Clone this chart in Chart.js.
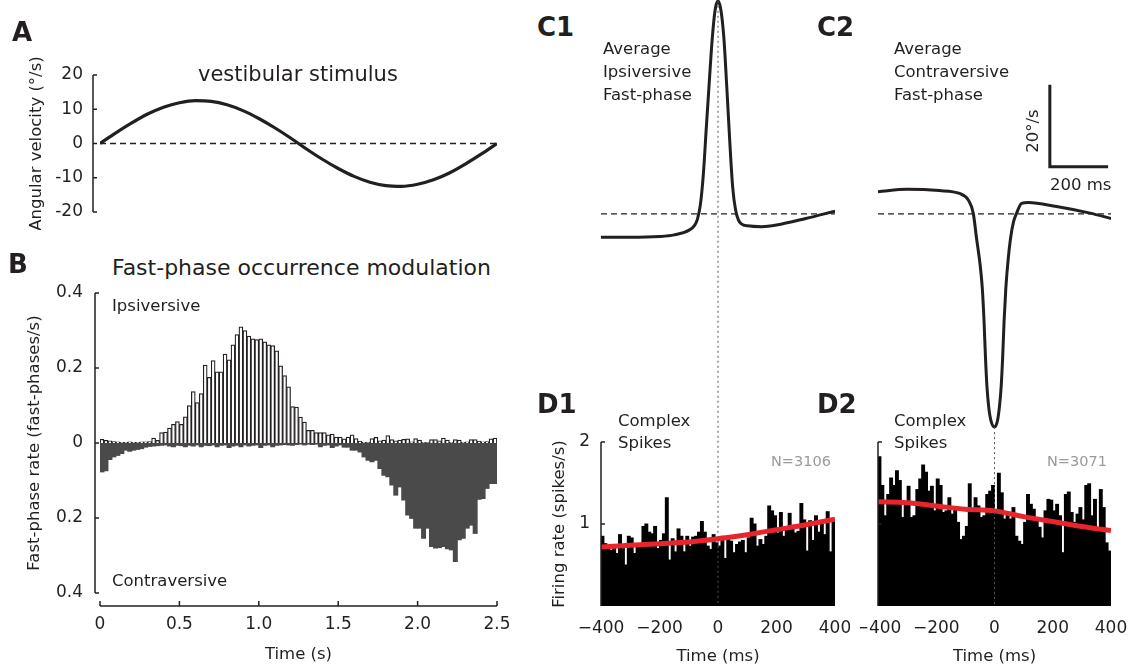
<!DOCTYPE html>
<html>
<head>
<meta charset="utf-8">
<title>Fast-phase occurrence and complex spikes</title>
<script src="https://cdn.jsdelivr.net/npm/chart.js@4.4.1/dist/chart.umd.min.js"></script>
<style>
  body { margin: 0; width: 1133px; height: 669px; position: relative; overflow: hidden; background: #fff;
         font-family: 'DejaVu Sans', sans-serif; color: #231f20; }
  canvas, .txt { position: absolute; }
  .txt { font-size: 16.5px; line-height: 23.3px; white-space: nowrap; }
  .panel { font-weight: bold; font-size: 26px; line-height: 26px; }
</style>
</head>
<body>
<canvas id="chartA" width="510" height="190" style="left:0;top:40px"></canvas>
<canvas id="chartB" width="520" height="389" style="left:0;top:280px"></canvas>
<canvas id="chartD1" width="320" height="269" style="left:530px;top:400px"></canvas>
<canvas id="chartD2" width="273" height="269" style="left:860px;top:400px"></canvas>
<canvas id="chartC1" width="250" height="621" style="left:593px;top:-8px"></canvas>
<canvas id="chartC2" width="249" height="621" style="left:870px;top:-8px"></canvas>

<div class="txt panel" style="left:12px;top:19px">A</div>
<div class="txt panel" style="left:8px;top:251px">B</div>
<div class="txt panel" style="left:537px;top:14px">C1</div>
<div class="txt panel" style="left:817px;top:14px">C2</div>
<div class="txt panel" style="left:537px;top:391px">D1</div>
<div class="txt panel" style="left:817px;top:391px">D2</div>

<div class="txt" style="left:198px;top:64px;font-size:21px;line-height:21px">vestibular stimulus</div>
<div class="txt" style="left:112px;top:257px;font-size:22px;line-height:22px">Fast-phase occurrence modulation</div>
<div class="txt" style="left:112px;top:294px">Ipsiversive</div>
<div class="txt" style="left:112px;top:569px">Contraversive</div>
<div class="txt" style="left:603px;top:36.5px">Average<br>Ipsiversive<br>Fast-phase</div>
<div class="txt" style="left:894px;top:36.5px">Average<br>Contraversive<br>Fast-phase</div>
<div class="txt" style="left:1033px;top:131px;transform:translate(-50%,-50%) rotate(-90deg)">20°/s</div>
<div class="txt" style="left:1050px;top:172.5px">200 ms</div>
<div class="txt" style="left:618px;top:410px;line-height:21.6px">Complex<br>Spikes</div>
<div class="txt" style="left:894px;top:410px;line-height:21.6px">Complex<br>Spikes</div>
<div class="txt" style="left:771px;top:453.7px;font-size:14.5px;line-height:14.5px;color:#9a9a9a">N=3106</div>
<div class="txt" style="left:1047px;top:453.7px;font-size:14.5px;line-height:14.5px;color:#9a9a9a">N=3071</div>

<script>
// ---- data ----
// A: head velocity stimulus
const stimTime = [0, 0.1, 0.2, 0.3, 0.4, 0.5, 0.6, 0.7, 0.8, 0.9, 1.0, 1.1, 1.2, 1.3,
                  1.4, 1.5, 1.6, 1.7, 1.8, 1.9, 2.0, 2.1, 2.2, 2.3, 2.4, 2.5];
const stimVelocity = [0, 3.1, 6.0, 8.6, 10.6, 11.9, 12.5, 12.3, 11.3, 9.6, 7.3, 4.6, 1.6, -1.6,
                      -4.6, -7.3, -9.6, -11.3, -12.3, -12.5, -11.9, -10.6, -8.6, -6.0, -3.1, 0];

// B: fast-phase rate, 25 ms bins over 0-2.5 s
const phaseBin = 0.025;
const ipsiRate = [
  0.010, 0.007, 0.006, 0.004, 0.003, 0.002, 0.002, 0.003, 0.002, 0.002,
  0.003, 0.003, 0.004, 0.013, 0.007, 0.028, 0.029, 0.040, 0.050, 0.057,
  0.050, 0.070, 0.100, 0.137, 0.108, 0.132, 0.208, 0.175, 0.220, 0.190,
  0.190, 0.237, 0.222, 0.262, 0.289, 0.310, 0.300, 0.285, 0.278, 0.276,
  0.278, 0.270, 0.262, 0.260, 0.246, 0.206, 0.180, 0.150, 0.097, 0.096,
  0.069, 0.056, 0.034, 0.034, 0.028, 0.028, 0.028, 0.022, 0.024, 0.016,
  0.016, 0.011, 0.016, 0.022, 0.012, 0.005, 0.002, 0.001, 0.012, 0.015,
  0.006, 0.008, 0.020, 0.009, 0.006, 0.008, 0.010, 0.011, 0.003, 0.012,
  0.008, 0.002, 0.001, 0.009, 0.009, 0.006, 0.013, 0.008, 0.002, 0.009,
  0.008, 0.002, 0.003, 0.009, 0.009, 0.005, 0.003, 0.004, 0.011, 0.013
];
const contraRate = [
  0.077, 0.074, 0.044, 0.037, 0.033, 0.028, 0.019, 0.022, 0.019, 0.017,
  0.015, 0.011, 0.009, 0.008, 0.007, 0.006, 0.005, 0.008, 0.010, 0.006,
  0.007, 0.010, 0.006, 0.008, 0.005, 0.010, 0.006, 0.007, 0.005, 0.010,
  0.006, 0.005, 0.012, 0.008, 0.006, 0.010, 0.005, 0.008, 0.006, 0.005,
  0.012, 0.006, 0.005, 0.010, 0.006, 0.005, 0.004, 0.005, 0.006, 0.004,
  0.003, 0.005, 0.003, 0.004, 0.003, 0.010, 0.006, 0.005, 0.012, 0.008,
  0.005, 0.011, 0.011, 0.019, 0.019, 0.024, 0.037, 0.046, 0.050, 0.046,
  0.068, 0.086, 0.090, 0.112, 0.139, 0.117, 0.152, 0.192, 0.201, 0.227,
  0.227, 0.254, 0.227, 0.276, 0.280, 0.279, 0.276, 0.282, 0.285, 0.316,
  0.258, 0.254, 0.227, 0.219, 0.241, 0.150, 0.148, 0.121, 0.108, 0.108
];

// C: average eye velocity around fast-phase onset
const ipsiTime = [-400, -300, -200, -150, -100, -80, -70, -60, -50, -40, -30, -20, -10, 0,
                  10, 20, 30, 40, 50, 60, 70, 80, 100, 150, 200, 300, 400];
const ipsiVelocity = [-5.7, -5.7, -5.5, -5.1, -4.0, -2.8, -1.2, 2.4, 9.8, 21, 32, 42.5, 49.7, 52,
                      49.7, 43, 31, 18, 6.7, 1.0, -1.5, -2.4, -2.9, -3.1, -2.7, -1.1, 0.7];
const contraTime = [-400, -300, -190, -120, -90, -73, -61, -50, -42, -36, -31, -26, -20, -12, 0,
                    10, 17, 23, 28, 33, 39, 47, 55, 65, 76, 93, 116, 213, 328, 400];
const contraVelocity = [5.4, 6.0, 5.7, 5.0, 3.4, 0.2, -6.3, -12, -18, -26, -35, -42, -47, -50.5, -52,
                        -50.5, -47, -42, -35, -26, -18, -11, -6, -2, 0.2, 2.6, 2.8, 1.8, 0.2, -1.1];

// D: complex spike rate, 10 ms bins over -400..400 ms
const spikeBin = 10;
const ipsiSpikes = [
  0.85, 0.76, 0.72, 0.68, 0.70, 0.64, 0.87, 0.70, 0.50, 0.85,
  0.83, 0.64, 0.76, 0.73, 0.97, 1.00, 0.90, 0.88, 0.97, 0.70,
  0.80, 0.88, 1.32, 0.56, 0.82, 0.66, 0.94, 0.85, 0.66, 0.85,
  0.73, 0.84, 0.85, 0.90, 1.03, 0.90, 0.73, 0.69, 0.87, 0.77,
  0.73, 0.85, 0.58, 0.81, 0.79, 0.65, 0.75, 0.78, 0.80, 0.65,
  0.83, 1.07, 1.00, 0.73, 0.81, 0.75, 0.85, 1.22, 1.16, 1.10,
  0.89, 1.14, 0.85, 0.95, 1.13, 0.97, 0.89, 0.91, 1.25, 1.05,
  0.67, 1.04, 0.80, 1.10, 0.90, 1.00, 0.87, 1.15, 0.66, 1.04
];
const contraSpikes = [
  1.82, 1.47, 1.10, 1.36, 1.56, 1.47, 1.65, 1.53, 1.08, 1.25,
  1.46, 1.08, 1.10, 1.42, 1.55, 1.72, 1.63, 1.40, 1.46, 1.16,
  1.55, 1.47, 1.14, 1.16, 1.32, 1.12, 1.20, 1.02, 0.81, 0.85,
  0.97, 1.49, 1.16, 1.32, 1.22, 1.08, 1.10, 1.36, 1.40, 1.47,
  1.14, 1.62, 1.38, 1.06, 1.12, 1.06, 1.20, 0.85, 0.79, 0.75,
  1.02, 1.36, 1.24, 1.18, 1.06, 0.96, 0.83, 1.16, 1.30, 1.29,
  1.16, 1.24, 1.10, 0.65, 1.36, 1.39, 1.14, 1.02, 1.12, 1.20,
  1.05, 1.47, 1.49, 1.10, 1.30, 0.95, 1.42, 1.20, 0.77, 0.67
];
const fitTime = [-400, -300, -200, -100, 0, 100, 200, 300, 400];
const ipsiFit = [0.72, 0.74, 0.76, 0.78, 0.82, 0.87, 0.93, 0.99, 1.06];
const contraFit = [1.27, 1.26, 1.22, 1.18, 1.16, 1.09, 1.03, 0.97, 0.92];

// ---- style ----
const ink = '#231f20';
const red = '#e8252a';
Chart.defaults.font.family = "'DejaVu Sans', sans-serif";
Chart.defaults.font.size = 17;
Chart.defaults.color = ink;
Chart.defaults.animation = false;
Chart.defaults.plugins.legend.display = false;
Chart.defaults.plugins.tooltip.enabled = false;

const pts = (xs, ys) => ys.map((v, i) => ({ x: xs[i], y: v }));
const bins = (vals, start, w, sign = 1) => vals.map((v, i) => ({ x: start + (i + 0.5) * w, y: sign * v }));
const noGrid = { display: false, drawTicks: false };
const noBorder = { display: false };

// fix a scale's size and stop its labels from pushing the plot area around
const fixSize = (w, h) => s => {
  if (w !== undefined) s.width = w;
  if (h !== undefined) s.height = h;
  s.paddingLeft = s.paddingRight = s.paddingTop = s.paddingBottom = 0;
};

function seg(ctx, x1, y1, x2, y2) {
  ctx.beginPath(); ctx.moveTo(x1, y1); ctx.lineTo(x2, y2); ctx.stroke();
}

// axes with inward ticks, reference lines and scale bar
const figureMarks = {
  id: 'figureMarks',
  afterDatasetsDraw(chart, args, o) {
    const { ctx, chartArea: ca, scales: { x, y } } = chart;
    ctx.save();
    ctx.strokeStyle = ink;
    if (o.zeroLine) {
      ctx.lineWidth = 1.3;
      ctx.setLineDash([6, 4]);
      const py = y.getPixelForValue(0);
      seg(ctx, ca.left, py, ca.right, py);
      ctx.setLineDash([]);
    }
    if (o.eventLine) {
      const onset = chart.data.datasets[0].data.find(p => p.x === 0);
      const px = x.getPixelForValue(0);
      ctx.strokeStyle = '#555';
      ctx.lineWidth = 1;
      ctx.setLineDash([2, 3]);
      seg(ctx, px, y.getPixelForValue(onset.y), px, ca.bottom);
      ctx.setLineDash([]);
      ctx.strokeStyle = ink;
    }
    ctx.lineWidth = 1.5;
    if (o.yAxis) {
      const ax = ca.left - o.yAxis.gap;
      seg(ctx, ax, y.getPixelForValue(y.max), ax, y.getPixelForValue(y.min));
      y.ticks.forEach(t => {
        const py = y.getPixelForValue(t.value);
        seg(ctx, ax, py, ax + o.yAxis.tick, py);
      });
    }
    if (o.xAxis) {
      const ay = ca.bottom + o.xAxis.gap;
      seg(ctx, x.getPixelForValue(x.min), ay, x.getPixelForValue(x.max), ay);
      x.ticks.forEach(t => {
        const px = x.getPixelForValue(t.value);
        seg(ctx, px, ay, px, ay - o.xAxis.tick);
      });
    }
    if (o.scaleBar) {
      const b = o.scaleBar;
      ctx.lineWidth = 3;
      ctx.beginPath();
      ctx.moveTo(x.getPixelForValue(b.t), y.getPixelForValue(b.v + b.dv));
      ctx.lineTo(x.getPixelForValue(b.t), y.getPixelForValue(b.v));
      ctx.lineTo(x.getPixelForValue(b.t + b.dt), y.getPixelForValue(b.v));
      ctx.stroke();
    }
    ctx.restore();
  }
};

// ---- A: stimulus ----
new Chart(document.getElementById('chartA'), {
  type: 'line',
  data: {
    datasets: [{
      data: pts(stimTime, stimVelocity),
      borderColor: ink, borderWidth: 3.2, pointRadius: 0,
      cubicInterpolationMode: 'monotone'
    }]
  },
  options: {
    responsive: false,
    layout: { padding: { left: 0, right: 13, top: 35, bottom: 18 } },
    scales: {
      x: { type: 'linear', min: 0, max: 2.5, display: false },
      y: {
        min: -20, max: 20,
        ticks: { stepSize: 10, padding: 17 },
        grid: noGrid, border: noBorder,
        title: { display: true, text: 'Angular velocity (°/s)', font: { size: 16.5 }, padding: { top: 27, bottom: 0 } },
        afterFit: fixSize(100)
      }
    },
    plugins: { figureMarks: { zeroLine: true, yAxis: { gap: 7, tick: 4 } } }
  },
  plugins: [figureMarks]
});

// ---- B: fast-phase occurrence ----
new Chart(document.getElementById('chartB'), {
  type: 'bar',
  data: {
    datasets: [
      {
        data: bins(ipsiRate, 0, phaseBin),
        backgroundColor: '#fff', borderColor: ink, borderWidth: 1.25,
        barPercentage: 1, categoryPercentage: 1, grouped: false
      },
      {
        data: bins(contraRate, 0, phaseBin, -1),
        backgroundColor: '#4a4a4a', borderWidth: 0, inflateAmount: 0.5,
        barPercentage: 1, categoryPercentage: 1, grouped: false
      }
    ]
  },
  options: {
    responsive: false,
    layout: { padding: { left: 0, right: 23, top: 13, bottom: 0 } },
    scales: {
      x: {
        type: 'linear', min: 0, max: 2.5, offset: false,
        ticks: { stepSize: 0.5, padding: 21, callback: v => v === 0 ? '0' : v.toFixed(1) },
        grid: noGrid, border: noBorder,
        title: { display: true, text: 'Time (s)', font: { size: 16.5 }, padding: { top: 0, bottom: 4 } },
        afterFit: fixSize(undefined, 76)
      },
      y: {
        min: -0.4, max: 0.4,
        ticks: { stepSize: 0.2, padding: 17, callback: v => Math.abs(v) < 1e-9 ? '0' : Math.abs(v).toFixed(1) },
        grid: noGrid, border: noBorder,
        title: { display: true, text: 'Fast-phase rate (fast-phases/s)', font: { size: 16.5 }, padding: { top: 25, bottom: 0 } },
        afterFit: fixSize(100)
      }
    },
    plugins: { figureMarks: { yAxis: { gap: 5, tick: 4 }, xAxis: { gap: 13, tick: 5 } } }
  },
  plugins: [figureMarks]
});

// ---- D: complex spike histograms ----
function spikeChart(id, rates, fit, withLabels) {
  return new Chart(document.getElementById(id), {
    type: 'bar',
    data: {
      datasets: [
        {
          type: 'line', data: pts(fitTime, fit),
          borderColor: red, borderWidth: 5, pointRadius: 0,
          cubicInterpolationMode: 'monotone'
        },
        {
          data: bins(rates, -400, spikeBin),
          backgroundColor: '#000', borderWidth: 0, inflateAmount: 0.5,
          barPercentage: 1, categoryPercentage: 1
        }
      ]
    },
    options: {
      responsive: false,
      layout: { padding: { left: 0, right: withLabels ? 15 : 22, top: 42, bottom: 0 } },
      scales: {
        x: {
          type: 'linear', min: -400, max: 400, offset: false,
          ticks: { stepSize: 200, padding: 12, callback: v => v < 0 ? '\u2212' + Math.abs(v) : String(v) },
          grid: noGrid, border: noBorder,
          title: { display: true, text: 'Time (ms)', font: { size: 16.5 }, padding: { top: 0, bottom: 2 } },
          afterFit: fixSize(undefined, 63)
        },
        y: {
          min: 0, max: 2,
          ticks: { display: withLabels, stepSize: 1, padding: 11, callback: v => v === 0 ? null : String(v) },
          grid: noGrid, border: noBorder,
          title: { display: withLabels, text: 'Firing rate (spikes/s)', font: { size: 16.5 }, padding: { top: 20, bottom: 0 } },
          afterFit: fixSize(withLabels ? 71 : 18)
        }
      },
      plugins: { figureMarks: { yAxis: { gap: 0, tick: 4 } } }
    },
    plugins: [figureMarks]
  });
}
spikeChart('chartD1', ipsiSpikes, ipsiFit, true);
spikeChart('chartD2', contraSpikes, contraFit, false);

// ---- C: average fast-phase velocity (overlaid, shares time axis with D) ----
function velocityChart(id, times, vel, extra) {
  return new Chart(document.getElementById(id), {
    type: 'line',
    data: {
      datasets: [{
        data: pts(times, vel),
        borderColor: ink, borderWidth: 3, pointRadius: 0,
        cubicInterpolationMode: 'monotone'
      }]
    },
    options: {
      responsive: false,
      layout: { padding: 8 },
      scales: {
        x: { type: 'linear', min: -400, max: 400, display: false },
        y: { min: -95.4, max: 52.2, display: false }
      },
      plugins: { figureMarks: Object.assign({ zeroLine: true, eventLine: true }, extra) }
    },
    plugins: [figureMarks]
  });
}
velocityChart('chartC1', ipsiTime, ipsiVelocity, {});
velocityChart('chartC2', contraTime, contraVelocity, { scaleBar: { t: 190, dt: 200, v: 11.5, dv: 20 } });
</script>
</body>
</html>
